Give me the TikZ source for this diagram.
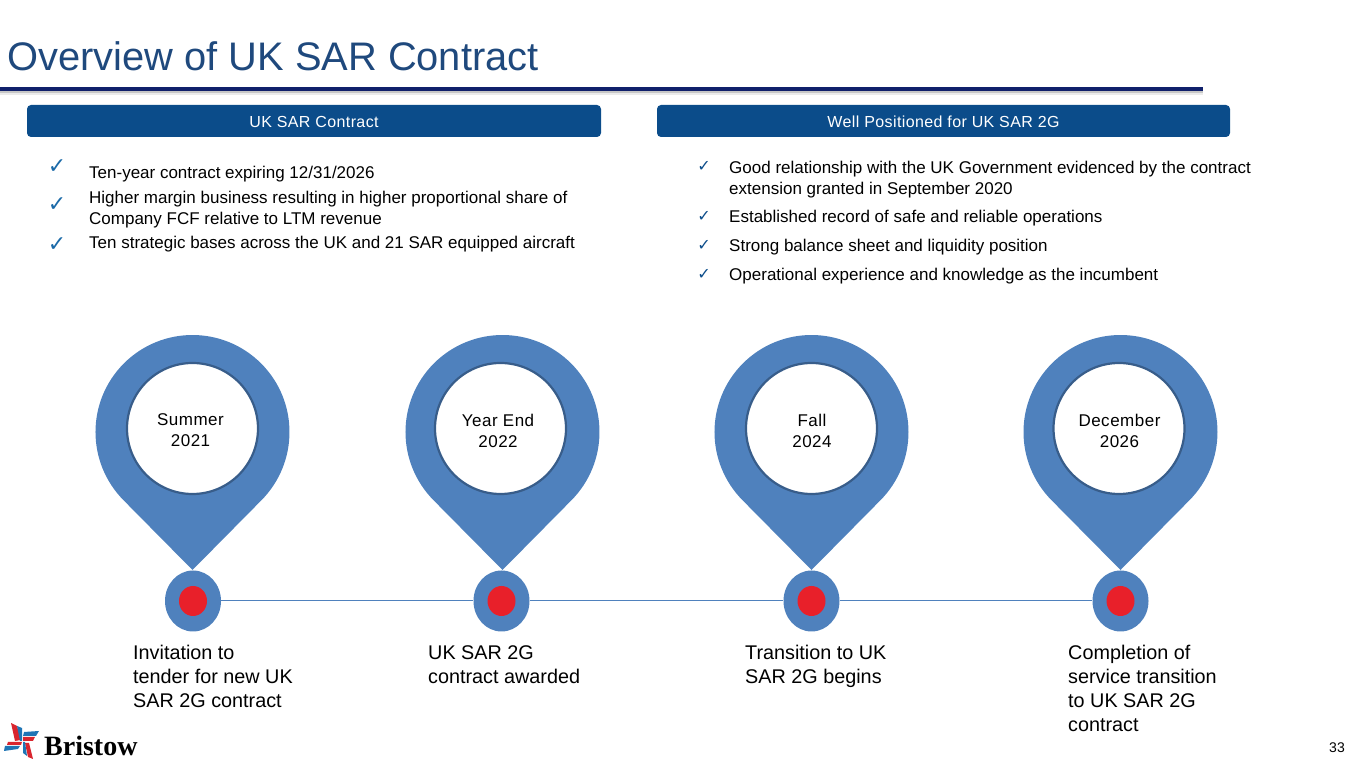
\documentclass[tikz,border=0pt]{standalone}
\usepackage{fontspec}
\setmainfont{Liberation Sans}
\newfontfamily\logofont{Liberation Serif}
\newfontfamily\checkfont{DejaVu Sans}
\definecolor{titleblue}{HTML}{1F497D}
\definecolor{navy}{HTML}{10206B}
\definecolor{barblue}{HTML}{0B4C8A}
\definecolor{tickblue}{HTML}{1B6AA8}
\definecolor{pinblue}{HTML}{4F81BD}
\definecolor{ringblue}{HTML}{385D8A}
\definecolor{dotred}{HTML}{E8202A}
\definecolor{logored}{HTML}{D9252E}
\definecolor{logoblue}{HTML}{1F75B5}
\tikzset{
  headbar/.style={fill=barblue,rounded corners=4pt},
  headtext/.style={text=white,font=\fontsize{16}{18}\selectfont\addfontfeature{LetterSpace=2.5}},
  bullet/.style={anchor=west,inner sep=0pt,align=left,font=\fontsize{17}{21}\selectfont},
  bigtick/.style={text=tickblue,inner sep=0pt,font=\checkfont\fontsize{22}{22}\selectfont},
  smalltick/.style={text=barblue,inner sep=0pt,font=\checkfont\fontsize{16}{16}\selectfont},
  pinbody/.style={fill=pinblue},
  pinring/.style={circle,draw=ringblue,line width=2.2pt,fill=white,minimum size=131pt,inner sep=0pt},
  pinlabel/.style={inner sep=0pt,align=center,font=\fontsize{17}{21}\selectfont\addfontfeature{LetterSpace=3}},
  outerdot/.style={ellipse,fill=pinblue,minimum width=56pt,minimum height=61pt,inner sep=0pt},
  reddot/.style={ellipse,fill=dotred,minimum width=28pt,minimum height=30pt,inner sep=0pt},
  caption/.style={anchor=north west,inner sep=0pt,align=left,font=\fontsize{19.8}{24}\selectfont},
}
\usetikzlibrary{shapes.geometric}
\begin{document}
\begin{tikzpicture}[x=1pt,y=1pt]
   \useasboundingbox (0,0) rectangle (1365,768);

   % title and rule
   \node[anchor=base west,inner sep=0pt,text=titleblue,font=\fontsize{39.85}{48}\selectfont] (title) at (7,697) {Overview of UK SAR Contract};
   \fill[black!8] (0,677) rectangle (1203,673);
   \fill[black!22] (0,677) rectangle (1203,675);
   \fill[navy] (0,680.5) rectangle (1203,677);

   % header bars
   \fill[headbar] (27,663) rectangle (601,631);
   \fill[headbar] (657,663) rectangle (1230,631);
   \node[headtext] (barl) at (314,646) {UK SAR Contract};
   \node[headtext] (barr) at (943.5,646) {Well Positioned for UK SAR 2G};

   % left list
   \node[bigtick] (t1) at (57,601.5) {✓};
   \node[bigtick] (t2) at (57,563.5) {✓};
   \node[bigtick] (t3) at (57,523) {✓};
   \node[bullet] (l1) at (89,594) {Ten-year contract expiring 12/31/2026};
   \node[bullet] (l2) at (89,558) {Higher margin business resulting in higher proportional share of\\Company FCF relative to LTM revenue};
   \node[bullet] (l3) at (89,524) {Ten strategic bases across the UK and 21 SAR equipped aircraft};

   % right list
   \node[smalltick] (t4) at (704,601.5) {✓};
   \node[smalltick] (t5) at (704,552) {✓};
   \node[smalltick] (t6) at (704,523) {✓};
   \node[smalltick] (t7) at (704,494) {✓};
   \node[bullet] (r1) at (729,588) {Good relationship with the UK Government evidenced by the contract\\extension granted in September 2020};
   \node[bullet] (r2) at (729,550) {Established record of safe and reliable operations};
   \node[bullet] (r3) at (729,521) {Strong balance sheet and liquidity position};
   \node[bullet] (r4) at (729,492) {Operational experience and knowledge as the incumbent};

   % pins
   \fill[pinbody] (192.5,198) -- (123.9,267.4) arc[start angle=225,end angle=-45,radius=97] -- cycle;
   \fill[pinbody] (502.5,198) -- (433.9,267.4) arc[start angle=225,end angle=-45,radius=97] -- cycle;
   \fill[pinbody] (811.5,198) -- (742.9,267.4) arc[start angle=225,end angle=-45,radius=97] -- cycle;
   \fill[pinbody] (1120.5,198) -- (1051.9,267.4) arc[start angle=225,end angle=-45,radius=97] -- cycle;
   \node[pinring] (p1) at (192.5,339.5) {};
   \node[pinring] (p2) at (500.5,339.5) {};
   \node[pinring] (p3) at (811.5,339.5) {};
   \node[pinring] (p4) at (1119,339.5) {};
   \node[pinlabel] (s1) at (190.5,337.5) {Summer\\2021};
   \node[pinlabel] (s2) at (498,337.5) {Year End\\2022};
   \node[pinlabel] (s3) at (812,337.5) {Fall\\2024};
   \node[pinlabel] (s4) at (1119.5,337.5) {December\\2026};

   % timeline
   \node[outerdot] (a1) at (193,167) {};
   \node[outerdot] (a2) at (501.5,167) {};
   \node[outerdot] (a3) at (811.5,167) {};
   \node[outerdot] (a4) at (1120.5,167) {};
   \path[draw=pinblue,line width=1pt] (a1) -- (a2) (a2) -- (a3) (a3) -- (a4);
   \node[reddot] (b1) at (193,167) {};
   \node[reddot] (b2) at (501.5,167) {};
   \node[reddot] (b3) at (811.5,167) {};
   \node[reddot] (b4) at (1120.5,167) {};

   % captions
   \node[caption] (c1) at (133,123) {Invitation to\\tender for new UK\\SAR 2G contract};
   \node[caption] (c2) at (428,123) {UK SAR 2G\\contract awarded};
   \node[caption] (c3) at (745,123) {Transition to UK\\SAR 2G begins};
   \node[caption] (c4) at (1068,123) {Completion of\\service transition\\to UK SAR 2G\\contract};

   % logo
   \fill[logored] (11,45) -- (17,42) -- (21,28) -- (15,27) -- cycle;
   \fill[logoblue] (17,42) -- (22,40) -- (22,27) -- (20,27) -- cycle;
   \fill[logoblue] (24,36) -- (39,37) -- (36,32) -- (23,32) -- cycle;
   \fill[logored] (23,31) -- (35,31) -- (33,27) -- (23,27) -- cycle;
   \fill[logored] (25,25) -- (29,25) -- (33,9) -- (28,11) -- cycle;
   \fill[logoblue] (23,26) -- (25,26) -- (27,12) -- (23,15) -- cycle;
   \fill[logored] (8,26) -- (22,26) -- (21,23) -- (7,23) -- cycle;
   \fill[logoblue] (5,22) -- (20,22) -- (18,19) -- (4,17) -- cycle;
   \node[anchor=base west,inner sep=0pt,font=\logofont\bfseries\fontsize{28}{28}\selectfont] (logo) at (44,12) {Bristow};

   \node[anchor=base east,inner sep=0pt,font=\fontsize{14}{14}\selectfont] (page) at (1345,15) {33};
\end{tikzpicture}
\end{document}
